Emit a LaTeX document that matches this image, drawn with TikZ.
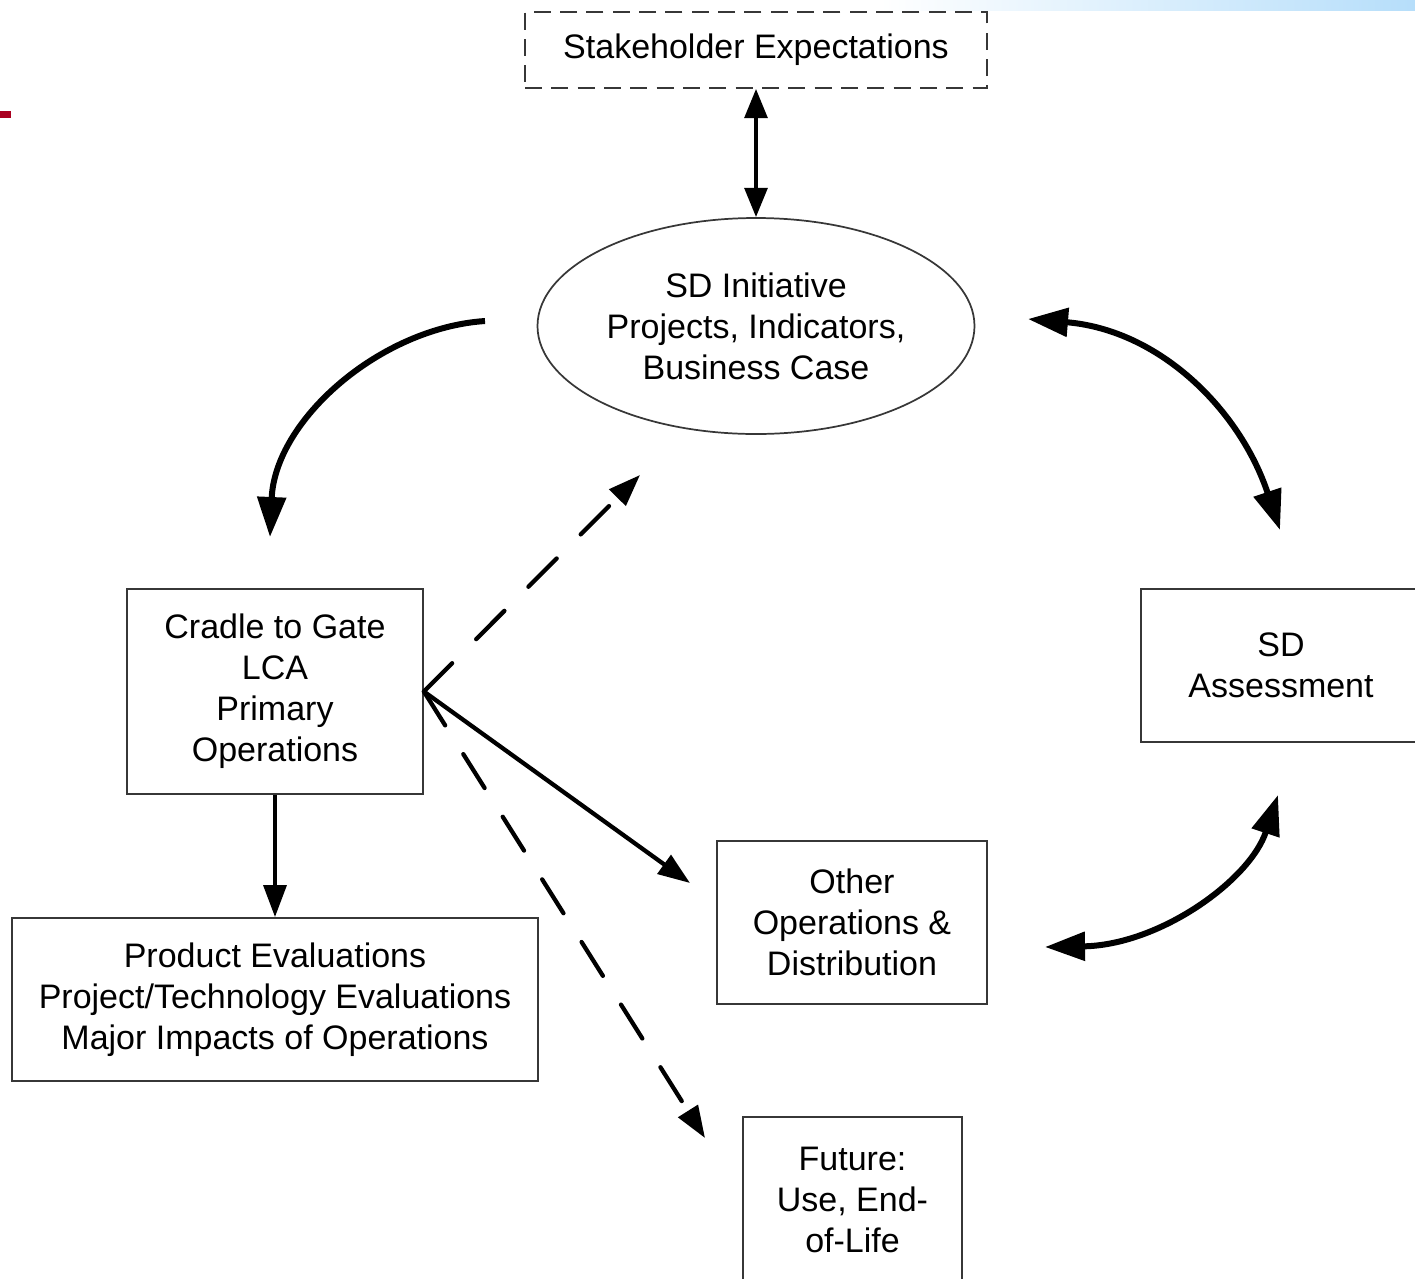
\documentclass[tikz,border=0pt]{standalone}
\usepackage{fontspec}
\setmainfont{Liberation Sans}
\usetikzlibrary{shapes.geometric,arrows.meta}

\definecolor{boxline}{RGB}{55,55,55}
\definecolor{markred}{RGB}{170,0,32}
\definecolor{barblue}{RGB}{182,222,250}
\newcommand{\diagfont}{\fontsize{25.5}{30.75}\selectfont}

\begin{document}
\begin{tikzpicture}[x=0.75pt,y=0.75pt,yscale=-1,xscale=1,
  box/.style={draw=boxline,line width=1.3pt,inner sep=0pt,align=center,font=\diagfont},
  dashbox/.style={box,dash pattern=on 12.75pt off 7pt},
  flowarrow/.style={line width=3.2pt,-{Triangle[length=24pt,width=17pt]}},
  bothway/.style={line width=3.2pt,{Triangle[length=22pt,width=17pt]}-{Triangle[length=22pt,width=17pt]}},
  dashedarrow/.style={flowarrow,line cap=round,dash pattern=on 30pt off 25.5pt},
  bigcurve/.style={line width=4.5pt,-{Triangle[length=30pt,width=21pt]}},
  bigboth/.style={line width=4.5pt,{Triangle[length=30pt,width=21pt]}-{Triangle[length=30pt,width=21pt]}}]
\useasboundingbox (0,0) rectangle (1415,1279);

%Shape: top bar and side mark
\shade [left color=white,right color=barblue] (880,0) rectangle (1415,10);
\fill [markred] (0,111) rectangle (11,118);

% Nodes
\node [dashbox,minimum width=346.5pt,minimum height=57pt] (stake) at (756,50) {Stakeholder Expectations};
\node [box,ellipse,minimum width=327.75pt,minimum height=162pt] (initiative) at (756,326) {SD Initiative\\Projects, Indicators,\\Business Case};
\node [box,minimum width=222pt,minimum height=153.75pt] (cradle) at (275,691.5) {Cradle to Gate\\LCA\\Primary\\Operations};
\node [box,minimum width=394.5pt,minimum height=122.25pt] (product) at (275,999.5) {Product Evaluations\\Project/Technology Evaluations\\Major Impacts of Operations};
\node [box,minimum width=202.5pt,minimum height=122.25pt] (other) at (852,922.5) {Other\\Operations \&\\Distribution};
\node [box,minimum width=210pt,minimum height=114.75pt] (assess) at (1281,665.5) {SD\\Assessment};
\node [box,minimum width=164.25pt,minimum height=124.5pt] (future) at (852.5,1200) {Future:\\Use, End-\\of-Life};

% Free ends of the connectors
\coordinate (leftstart) at (485,321);
\coordinate (leftend) at (270,537);
\coordinate (rtop) at (1028,319);
\coordinate (rbottom) at (1280,530);
\coordinate (lowright) at (1278,795);
\coordinate (lowleft) at (1045,947);
\coordinate (toinit) at (640,475);
\coordinate (toother) at (690,883);
\coordinate (tofuture) at (705,1138);

% Connectors
\draw [bothway] (stake) -- (initiative);
\draw [bigcurve] (leftstart) .. controls (380,328) and (275,420) .. (leftend);
\draw [bigboth] (rtop) .. controls (1160,330) and (1240,410) .. (rbottom);
\draw [bigboth] (lowleft) .. controls (1160,945) and (1250,880) .. (lowright);
\draw [flowarrow] (cradle) -- (product);
\draw [dashedarrow] (cradle.east) -- (toinit);
\draw [flowarrow] (cradle.east) -- (toother);
\draw [dashedarrow] (cradle.east) -- (tofuture);

\end{tikzpicture}
\end{document}
